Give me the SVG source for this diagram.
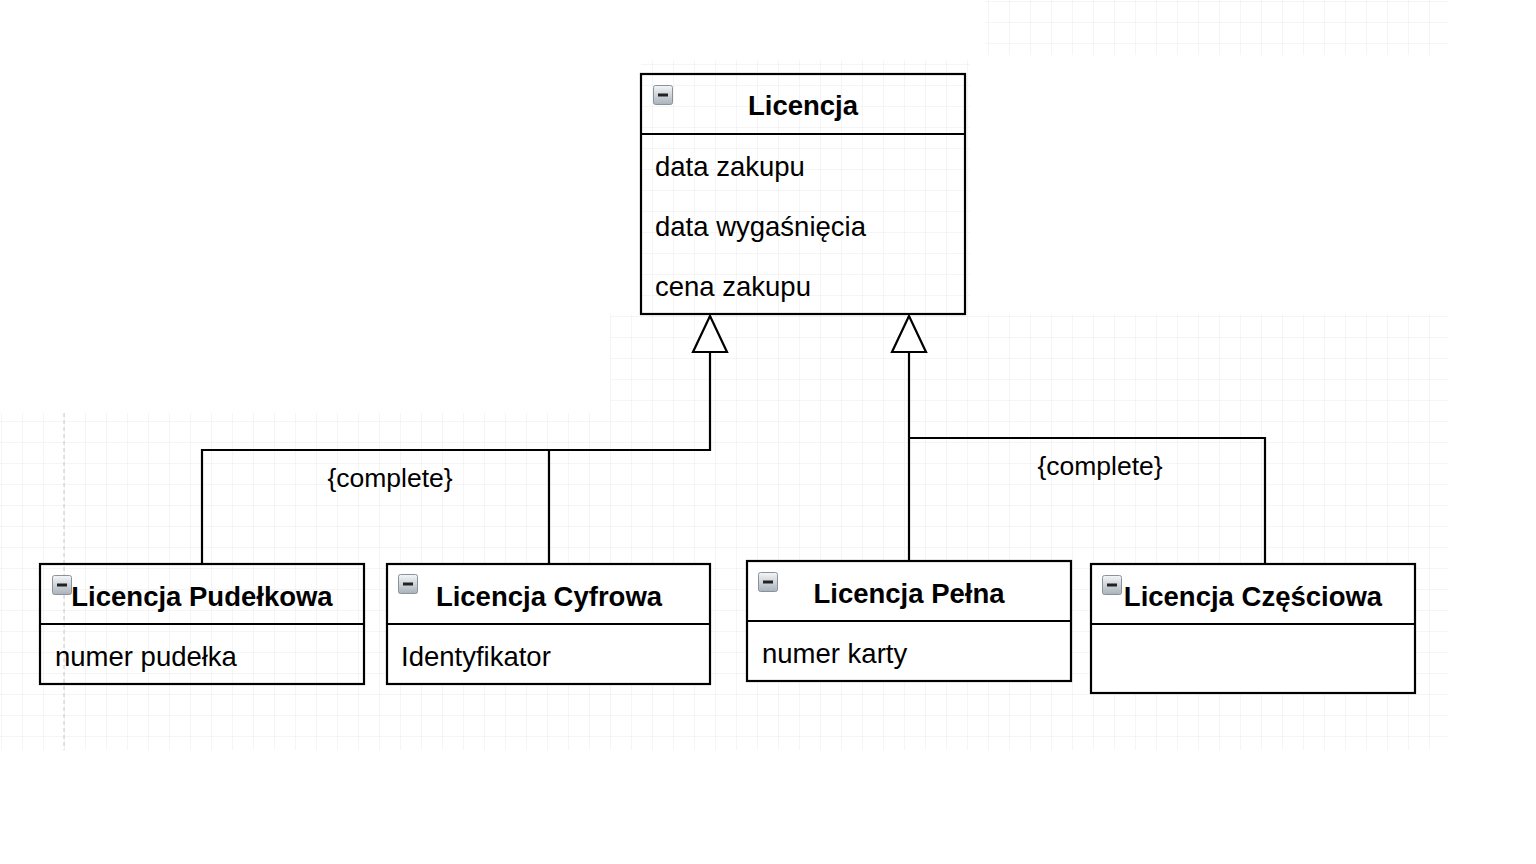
<svg xmlns="http://www.w3.org/2000/svg" width="1536" height="864" viewBox="0 0 1536 864">
<defs>
<pattern id="grid" width="21" height="21" patternUnits="userSpaceOnUse" x="1" y="1">
<path d="M 21 0 L 0 0 0 21" fill="none" stroke="#ececec" stroke-width="1"/>
</pattern>
<linearGradient id="ig" x1="0" y1="0" x2="0" y2="1">
<stop offset="0" stop-color="#f4f6f8"/>
<stop offset="1" stop-color="#a9b2bb"/>
</linearGradient>
<symbol id="icon" viewBox="0 0 20 20">
<rect x="0.5" y="0.5" width="19" height="19" rx="2" fill="url(#ig)" stroke="#8a939c"/>
<rect x="5" y="8.5" width="10" height="3" fill="#222"/>
</symbol>
<marker id="gen" viewBox="0 0 40 40" markerWidth="40" markerHeight="40" refX="20" refY="2" markerUnits="userSpaceOnUse" orient="0">
<path d="M20 2 L37 38 L3 38 Z" fill="#fff" stroke="#000" stroke-width="2.2"/>
</marker>
</defs>
<style>
.box{fill:#fff;stroke:#000;stroke-width:2.2}
.sep{stroke:#000;stroke-width:2.2}
.title{font-family:"Liberation Sans",Arial,sans-serif;font-size:27.5px;font-weight:bold;fill:#000;text-anchor:middle}
.attr{font-family:"Liberation Sans",Arial,sans-serif;font-size:27.5px;fill:#000}
.lbl{font-family:"Liberation Sans",Arial,sans-serif;font-size:26.5px;fill:#000;text-anchor:middle}
.conn{fill:none;stroke:#000;stroke-width:2.2}
</style>
<rect width="1536" height="864" fill="#fff"/>
<g id="background-grid">
<rect x="985" y="0" width="463" height="55" fill="url(#grid)"/>
<rect x="610" y="314" width="838" height="99" fill="url(#grid)"/>
<rect x="0" y="413" width="1448" height="337" fill="url(#grid)"/>
<rect x="641" y="60" width="329" height="254" fill="url(#grid)"/>
<line x1="64" y1="413" x2="64" y2="750" stroke="#c8c8c8" stroke-width="1" stroke-dasharray="4,3"/>
</g>
<g id="connectors">
<path class="conn" d="M710 316 L710 450 L202 450 L202 564" marker-start="url(#gen)"/>
<path class="conn" d="M549 450 L549 564"/>
<path class="conn" d="M909 316 L909 561" marker-start="url(#gen)"/>
<path class="conn" d="M909 438 L1265 438 L1265 564"/>
<text class="lbl" x="390" y="487">{complete}</text>
<text class="lbl" x="1100" y="475">{complete}</text>
</g>
<g id="licencja">
<rect class="box" x="641" y="74" width="324" height="240" fill-opacity="0"/>
<line class="sep" x1="641" y1="134" x2="965" y2="134"/>
<use href="#icon" x="653" y="85" width="20" height="20"/>
<text class="title" x="803" y="115">Licencja</text>
<text class="attr" x="655" y="176">data zakupu</text>
<text class="attr" x="655" y="236">data wygaśnięcia</text>
<text class="attr" x="655" y="296">cena zakupu</text>
</g>
<g id="licencja-pudelkowa">
<rect class="box" x="40" y="564" width="324" height="120" fill-opacity="0"/>
<line class="sep" x1="40" y1="624" x2="364" y2="624"/>
<use href="#icon" x="52" y="575" width="20" height="20"/>
<text class="title" x="202" y="606">Licencja Pudełkowa</text>
<text class="attr" x="55" y="666">numer pudełka</text>
</g>
<g id="licencja-cyfrowa">
<rect class="box" x="387" y="564" width="323" height="120"/>
<line class="sep" x1="387" y1="624" x2="710" y2="624"/>
<use href="#icon" x="398" y="574" width="20" height="20"/>
<text class="title" x="549" y="606">Licencja Cyfrowa</text>
<text class="attr" x="401" y="666">Identyfikator</text>
</g>
<g id="licencja-pelna">
<rect class="box" x="747" y="561" width="324" height="120"/>
<line class="sep" x1="747" y1="621" x2="1071" y2="621"/>
<use href="#icon" x="758" y="572" width="20" height="20"/>
<text class="title" x="909" y="603">Licencja Pełna</text>
<text class="attr" x="762" y="663">numer karty</text>
</g>
<g id="licencja-czesciowa">
<rect class="box" x="1091" y="564" width="324" height="129"/>
<line class="sep" x1="1091" y1="624" x2="1415" y2="624"/>
<use href="#icon" x="1102" y="575" width="20" height="20"/>
<text class="title" x="1253" y="606">Licencja Częściowa</text>
</g>
</svg>
